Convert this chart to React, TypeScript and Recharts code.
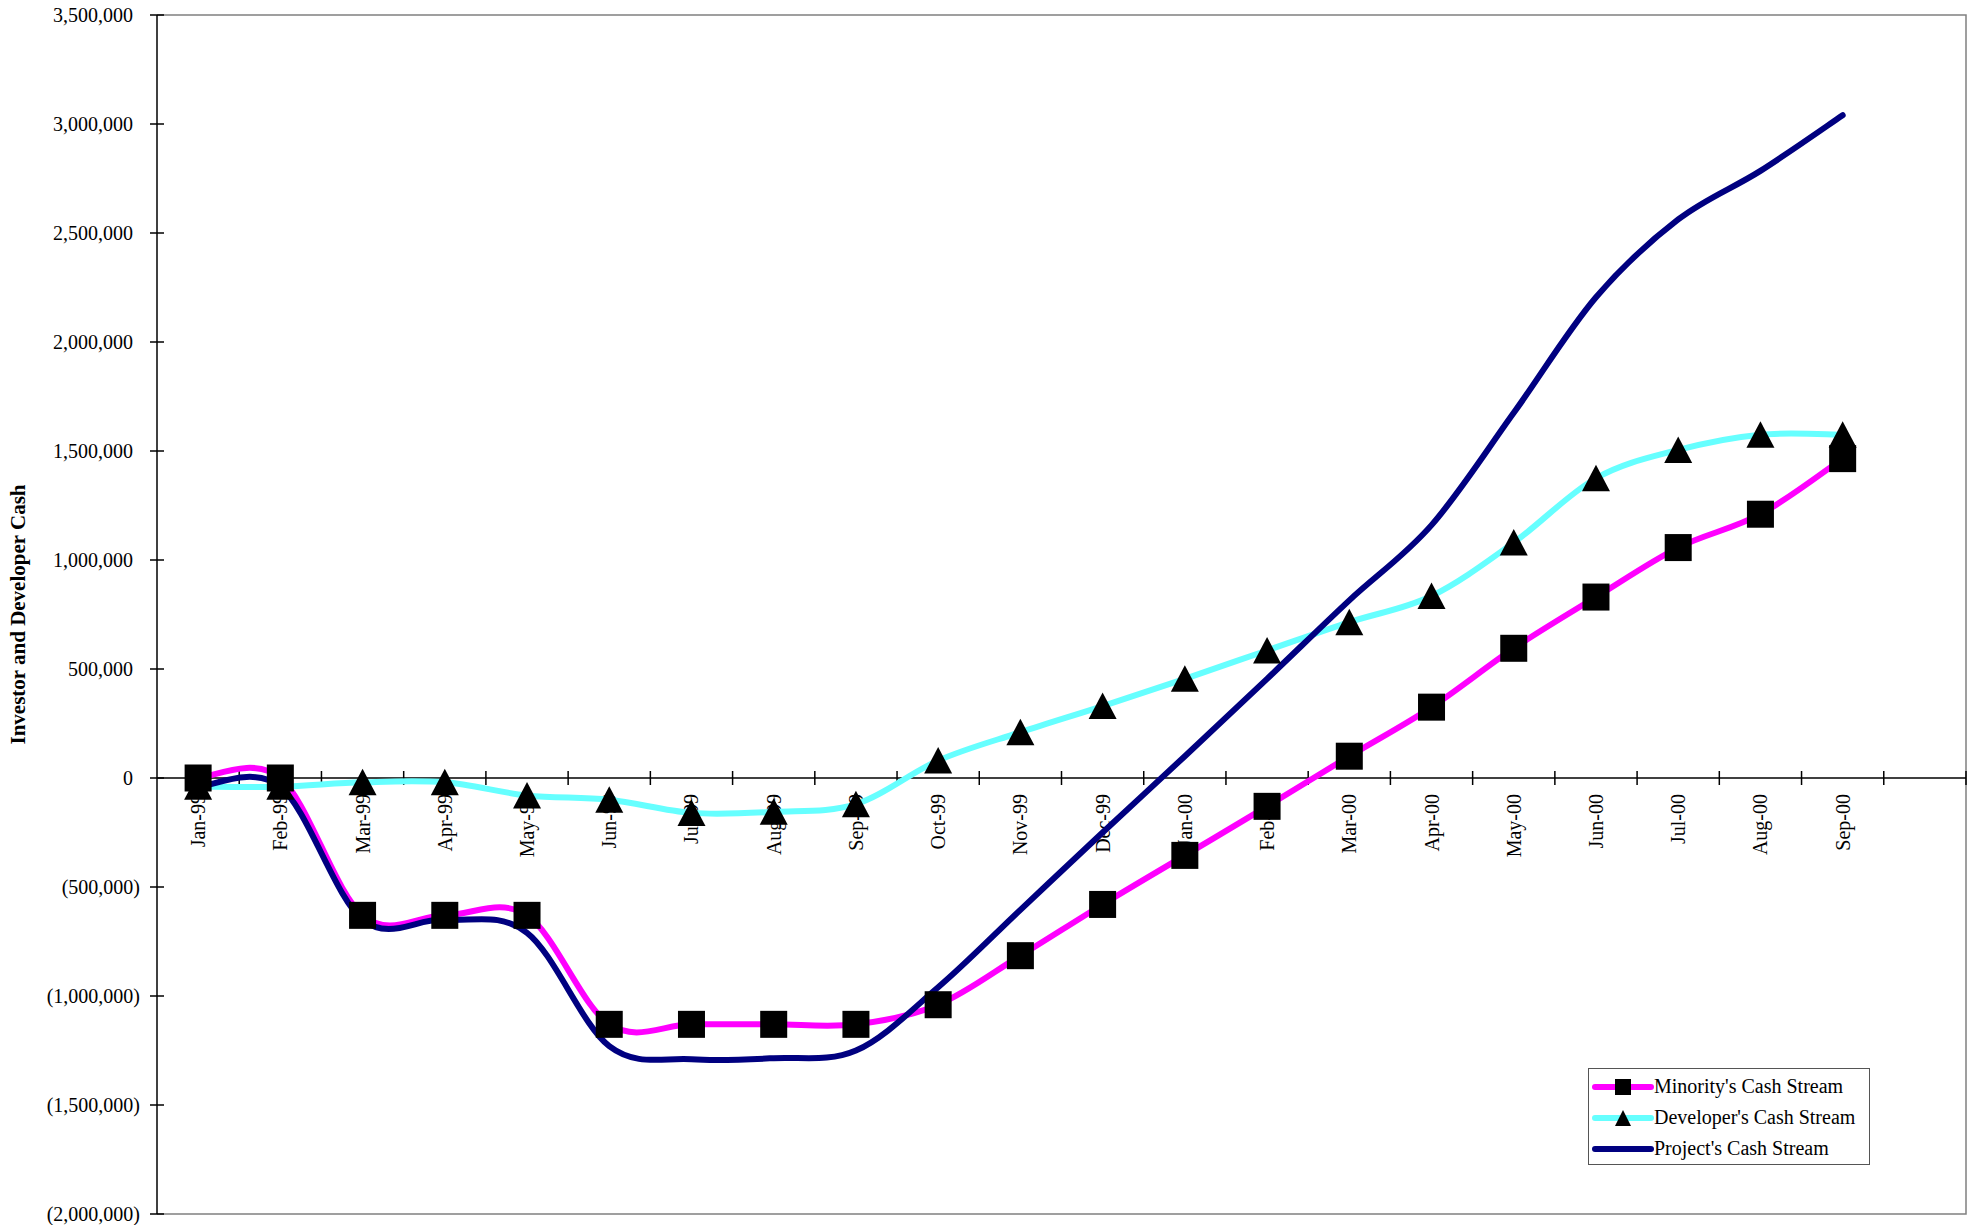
import { Legend, Line, LineChart, ReferenceArea, ReferenceLine, XAxis, YAxis } from "recharts";

const months = [
  "Jan-99", "Feb-99", "Mar-99", "Apr-99", "May-99", "Jun-99", "Jul-99", "Aug-99", "Sep-99",
  "Oct-99", "Nov-99", "Dec-99", "Jan-00", "Feb-00", "Mar-00", "Apr-00", "May-00", "Jun-00",
  "Jul-00", "Aug-00", "Sep-00", "",
];

const minority = [
  0, 0, -630000, -630000, -630000, -1130000, -1130000, -1130000, -1130000, -1040000, -815000,
  -580000, -355000, -130000, 100000, 325000, 595000, 830000, 1057000, 1210000, 1465000,
];

const developer = [
  -40000, -40000, -20000, -20000, -80000, -100000, -160000, -155000, -120000, 80000, 210000,
  330000, 455000, 585000, 715000, 835000, 1080000, 1375000, 1505000, 1575000, 1575000,
];

const project = [
  -40000, -40000, -650000, -650000, -710000, -1230000, -1290000, -1285000, -1250000, -960000,
  -605000, -250000, 100000, 455000, 815000, 1160000, 1675000, 2205000, 2562000, 2785000, 3040000,
];

const yTicks = [-2000000, -1500000, -1000000, -500000, 0, 500000, 1000000, 1500000, 2000000, 2500000, 3000000, 3500000];

const data = months.map((month, i) => ({
  month,
  minority: minority[i] ?? null,
  developer: developer[i] ?? null,
  project: project[i] ?? null,
}));

const FONT = "'Liberation Serif', 'Times New Roman', serif";

// Excel style smoothing (Catmull-Rom as cubic bezier)
function excelSmooth(context: any) {
  let pts: number[][] = [];
  return {
    areaStart() {},
    areaEnd() {},
    lineStart() {
      pts = [];
    },
    point(x: number, y: number) {
      pts.push([+x, +y]);
    },
    lineEnd() {
      const n = pts.length;
      if (!n) return;
      context.moveTo(pts[0][0], pts[0][1]);
      for (let i = 0; i < n - 1; i++) {
        const p0 = pts[i - 1] ?? pts[i];
        const p1 = pts[i];
        const p2 = pts[i + 1];
        const p3 = pts[i + 2] ?? p2;
        context.bezierCurveTo(
          p1[0] + (p2[0] - p0[0]) / 6,
          p1[1] + (p2[1] - p0[1]) / 6,
          p2[0] - (p3[0] - p1[0]) / 6,
          p2[1] - (p3[1] - p1[1]) / 6,
          p2[0],
          p2[1]
        );
      }
    },
  };
}

function fmt(v: number) {
  const s = Math.abs(v).toLocaleString("en-US");
  return v < 0 ? `(${s})` : s;
}

function YTick({ x, y, payload }: any) {
  const v = payload.value as number;
  return (
    <g>
      <line x1={x - 7} x2={x + 7} y1={y} y2={y} stroke="#000" strokeWidth={1.5} />
      <text
        x={v < 0 ? x - 17 : x - 24}
        y={y}
        textAnchor="end"
        dominantBaseline="central"
        fontSize={20}
        fontFamily={FONT}
        fill="#000"
      >
        {fmt(v)}
      </text>
    </g>
  );
}

// zero line acting as the category axis
function ZeroAxis(props: any) {
  const { x1, x2, y1 } = props;
  const n = months.length;
  const band = (x2 - x1) / n;
  return (
    <g>
      <line x1={x1} x2={x2} y1={y1} y2={y1} stroke="#000" strokeWidth={1.5} />
      {months.map((_, i) => (
        <line
          key={"t" + i}
          x1={x1 + (i + 1) * band}
          x2={x1 + (i + 1) * band}
          y1={y1 - 7}
          y2={y1 + 7}
          stroke="#000"
          strokeWidth={1.5}
        />
      ))}
      {months.map((m, i) => {
        const cx = x1 + (i + 0.5) * band;
        const ty = y1 + 16;
        return (
          <text
            key={"l" + i}
            x={cx}
            y={ty}
            transform={`rotate(-90 ${cx} ${ty})`}
            textAnchor="end"
            dominantBaseline="central"
            fontSize={20}
            fontFamily={FONT}
            fill="#000"
          >
            {m}
          </text>
        );
      })}
    </g>
  );
}

function PlotFrame({ x, y, width, height }: any) {
  return (
    <path
      d={`M${x},${y}H${x + width}V${y + height}H${x}`}
      fill="none"
      stroke="#808080"
      strokeWidth={1.5}
    />
  );
}

function SquareDot({ cx, cy }: any) {
  if (cx == null || cy == null) return null;
  return <rect x={cx - 13.5} y={cy - 13.5} width={27} height={27} fill="#000" />;
}

function TriangleDot({ cx, cy }: any) {
  if (cx == null || cy == null) return null;
  return <path d={`M${cx},${cy - 13.5}L${cx + 14},${cy + 13}L${cx - 14},${cy + 13}Z`} fill="#000" />;
}

function LegendBox() {
  const rows = [
    { name: "Minority's Cash Stream", color: "#FF00FF", marker: "square" },
    { name: "Developer's Cash Stream", color: "#66FFFF", marker: "triangle" },
    { name: "Project's Cash Stream", color: "#000080", marker: "" },
  ];
  return (
    <div
      style={{
        border: "1.5px solid #555",
        background: "#fff",
        width: 282,
        height: 97,
        boxSizing: "border-box",
        padding: "2px 0 0 3px",
        fontFamily: FONT,
        fontSize: 20,
        color: "#000",
      }}
    >
      {rows.map((r) => (
        <div key={r.name} style={{ display: "flex", alignItems: "center", height: 31, whiteSpace: "nowrap" }}>
          <svg width={62} height={20} style={{ flex: "none" }}>
            <line x1={3} x2={59} y1={10} y2={10} stroke={r.color} strokeWidth={6} strokeLinecap="round" />
            {r.marker === "square" && <rect x={23} y={2} width={16} height={16} fill="#000" />}
            {r.marker === "triangle" && <path d="M31,2L39,18L23,18Z" fill="#000" />}
          </svg>
          <span>{r.name}</span>
        </div>
      ))}
    </div>
  );
}

export default function App() {
  return (
    <div style={{ position: "absolute", left: 0, top: 0, width: 1973, height: 1225, background: "#fff" }}>
      <LineChart width={1973} height={1225} data={data} margin={{ top: 15, right: 7, bottom: 11, left: 0 }}>
        <XAxis dataKey="month" scale="band" height={0} tick={false} tickLine={false} axisLine={false} />
        <YAxis
          type="number"
          domain={[-2000000, 3500000]}
          ticks={yTicks}
          width={157}
          tickSize={0}
          tickMargin={0}
          tickLine={false}
          axisLine={{ stroke: "#000", strokeWidth: 1.5 }}
          tick={<YTick />}
          interval={0}
          label={{
            value: "Investor and Developer Cash",
            angle: -90,
            position: "insideLeft",
            offset: 18,
            style: { textAnchor: "middle", fontWeight: "bold", fontSize: 21, fontFamily: FONT, fill: "#000" },
          }}
        />
        <ReferenceArea y1={-2000000} y2={3500000} shape={<PlotFrame />} />
        <ReferenceLine y={0} shape={<ZeroAxis />} />
        <Legend
          layout="vertical"
          align="center"
          verticalAlign="middle"
          wrapperStyle={{ left: 1588, top: 1068, width: 282 }}
          content={<LegendBox />}
        />
        <Line
          dataKey="minority"
          name="Minority's Cash Stream"
          type={excelSmooth as any}
          stroke="#FF00FF"
          strokeWidth={6}
          dot={false}
          activeDot={false}
          isAnimationActive={false}
        />
        <Line
          dataKey="developer"
          name="Developer's Cash Stream"
          type={excelSmooth as any}
          stroke="#66FFFF"
          strokeWidth={6}
          dot={false}
          activeDot={false}
          isAnimationActive={false}
        />
        <Line
          dataKey="project"
          name="Project's Cash Stream"
          type={excelSmooth as any}
          stroke="#000080"
          strokeWidth={6}
          strokeLinecap="round"
          dot={false}
          activeDot={false}
          isAnimationActive={false}
        />
        {/* markers after all lines, like Excel */}
        <Line
          dataKey="minority"
          stroke="none"
          legendType="none"
          dot={<SquareDot />}
          activeDot={false}
          isAnimationActive={false}
        />
        <Line
          dataKey="developer"
          stroke="none"
          legendType="none"
          dot={<TriangleDot />}
          activeDot={false}
          isAnimationActive={false}
        />
      </LineChart>
    </div>
  );
}
